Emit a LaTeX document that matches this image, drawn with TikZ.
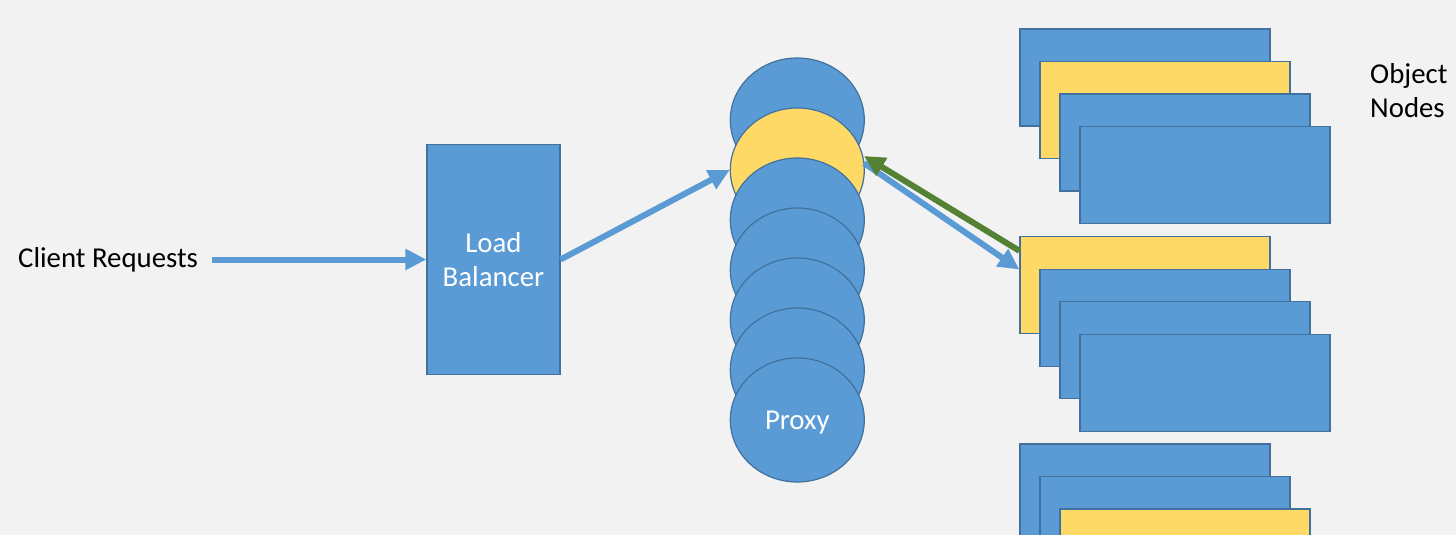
\documentclass[tikz,border=0pt]{standalone}
\usepackage{fontspec}
\setmainfont{Carlito}
\usetikzlibrary{shapes.geometric,arrows.meta,calc}
\definecolor{bg}{HTML}{F2F2F2}
\definecolor{fillblue}{HTML}{5B9BD5}
\definecolor{edgeblue}{HTML}{41719C}
\definecolor{fillyellow}{HTML}{FFD966}
\definecolor{arrowgreen}{HTML}{548235}
\begin{document}
\begin{tikzpicture}[x=1pt,y=-1pt,
 every node/.style={font=\fontsize{28.8}{34}\selectfont},
 bluebox/.style={draw=edgeblue, fill=fillblue, line width=1.2pt, minimum width=250pt, minimum height=97pt, inner sep=0pt},
 yellowbox/.style={bluebox, fill=fillyellow},
 bluedisc/.style={ellipse, draw=edgeblue, fill=fillblue, line width=1.2pt, minimum width=134pt, minimum height=124pt, inner sep=0pt, text=white},
 yellowdisc/.style={bluedisc, fill=fillyellow},
 flow/.style={draw=fillblue, line width=6pt, -{Triangle[length=21pt,width=20pt]}},
 back/.style={flow, draw=arrowgreen}
]
\useasboundingbox (0,0) rectangle (1456,535);
\fill[bg] (0,0) rectangle (1456,535);
\clip (0,0) rectangle (1456,535);

% client and load balancer
\node[anchor=base west, inner sep=0pt] (cr) at (18,267) {Client Requests};
\node[draw=edgeblue, fill=fillblue, line width=1.2pt, minimum width=133pt, minimum height=230pt, inner sep=0pt, text=white, align=center] (lb) at (493.5,259.5) {Load\\Balancer};

% proxies
\node[bluedisc] (p1) at (797.3,120) {};
\node[yellowdisc] (p2) at (797.3,170) {};
\node[bluedisc] (p3) at (797.3,220) {};
\node[bluedisc] (p4) at (797.3,270) {};
\node[bluedisc] (p5) at (797.3,320) {};
\node[bluedisc] (p6) at (797.3,370) {};
\node[bluedisc, text height=19pt, text depth=0pt] (p7) at (797.3,420) {Proxy};

% object nodes group 1
\node[bluebox] (a1) at (1145,77.5) {};
\node[yellowbox] (a2) at (1165,110) {};
\node[bluebox] (a3) at (1185,142.5) {};
\node[bluebox] (a4) at (1205,175) {};
% group 2
\node[yellowbox] (b1) at (1145,285.2) {};
\node[bluebox] (b2) at (1165,317.7) {};
\node[bluebox] (b3) at (1185,350.2) {};
\node[bluebox] (b4) at (1205,382.7) {};
% group 3
\node[bluebox] (c1) at (1145,492.5) {};
\node[bluebox] (c2) at (1165,525) {};
\node[yellowbox] (c3) at (1185,557.5) {};

\node[anchor=north west, inner sep=0pt, align=left] (objlabel) at (1370,63) {Object\\Nodes};

% connectors
\draw[flow, shorten <=14pt] (cr.east |- lb.west) -- (lb.west);
\draw[flow] (lb.east) -- (p2.west);
\draw[flow] ($(p2.east)+(-1,-7)$) -- ($(b1.north west)!0.34!(b1.south west)$);
\draw[back] ($(b1.north west)!0.15!(b1.south west)$) -- ($(p2.east)+(-1,-14)$);
\end{tikzpicture}
\end{document}
